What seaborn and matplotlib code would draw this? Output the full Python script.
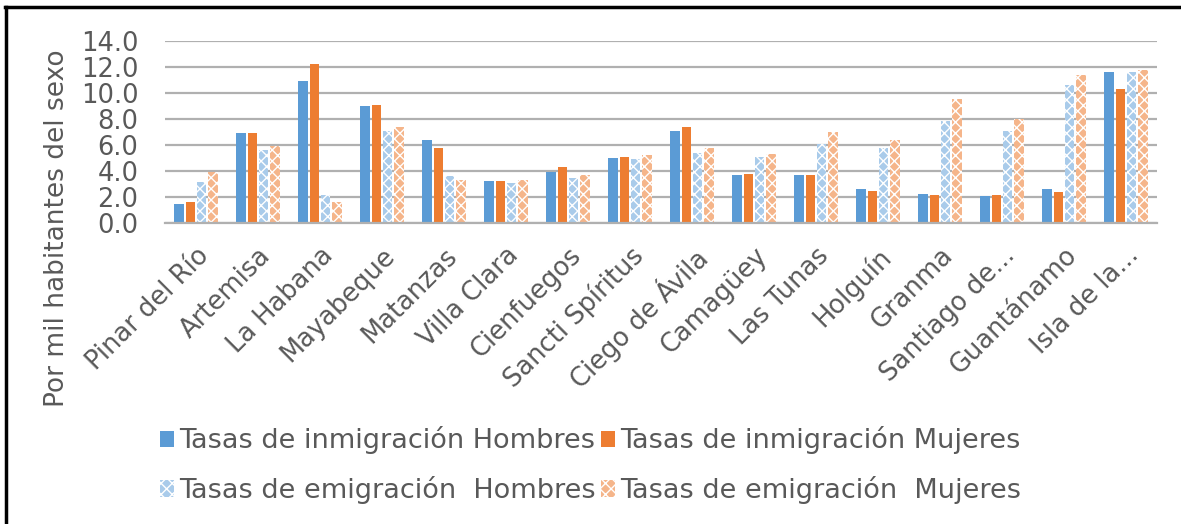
import pandas as pd
import numpy as np
import matplotlib.pyplot as plt
import seaborn as sns
from matplotlib.lines import Line2D
from matplotlib.patches import Patch

provincias = ['Pinar del Río', 'Artemisa', 'La Habana', 'Mayabeque', 'Matanzas',
              'Villa Clara', 'Cienfuegos', 'Sancti Spíritus', 'Ciego de Ávila',
              'Camagüey', 'Las Tunas', 'Holguín', 'Granma', 'Santiago de...',
              'Guantánamo', 'Isla de la...']

inmig_hombres = [1.5, 6.9, 10.9, 9.0, 6.4, 3.25, 3.9, 5.0, 7.1, 3.7, 3.7, 2.6, 2.25, 2.05, 2.6, 11.6]
inmig_mujeres = [1.6, 6.9, 12.2, 9.1, 5.8, 3.25, 4.3, 5.1, 7.4, 3.8, 3.7, 2.5, 2.15, 2.15, 2.35, 10.3]
emig_hombres = [3.15, 5.6, 2.15, 7.1, 3.6, 3.05, 3.45, 4.9, 5.4, 5.1, 6.05, 5.8, 7.85, 7.1, 10.6, 11.6]
emig_mujeres = [3.95, 5.95, 1.65, 7.4, 3.3, 3.3, 3.7, 5.2, 5.8, 5.3, 7.0, 6.4, 9.5, 8.0, 11.4, 11.8]

series = ['Tasas de inmigración Hombres', 'Tasas de inmigración Mujeres',
          'Tasas de emigración  Hombres', 'Tasas de emigración  Mujeres']

df = pd.DataFrame({
    'Provincia': provincias * 4,
    'Serie': [s for s in series for _ in provincias],
    'Tasa': inmig_hombres + inmig_mujeres + emig_hombres + emig_mujeres,
})

colores = ['#5b9bd5', '#ed7d31', '#a9cbea', '#f5b58a']
gris = '#595959'

plt.rcParams['font.family'] = ['DejaVu Sans']
plt.rcParams['hatch.linewidth'] = 1.0

fig = plt.figure(figsize=(11.81, 5.24), dpi=100)
ax = fig.add_axes([0.1397, 0.5744, 0.8400, 0.3474])

sns.barplot(data=df, x='Provincia', y='Tasa', hue='Serie', palette=colores,
            saturation=1, width=0.72, gap=0.14, ax=ax, legend=False)

# patrón para las barras de emigración
for i, cont in enumerate(ax.containers):
    for bar in cont:
        if i >= 2:
            bar.set_hatch('xxx')
            bar.set_edgecolor('white')
            bar.set_linewidth(0)
        else:
            bar.set_edgecolor('none')

ticks = np.arange(0, 14.1, 2)
ax.set_ylim(0, 14)
ax.set_yticks(ticks)
ax.set_yticklabels([f'{v:.1f}' for v in ticks], fontsize=18.5, color=gris)
ax.set_xlim(-0.5, len(provincias) - 0.5)
ax.set_xticks(range(len(provincias)))
ax.set_xticklabels(provincias, rotation=45, ha='right', va='top', rotation_mode='anchor',
                   fontsize=18.5, color=gris)
ax.tick_params(axis='y', length=0, pad=19)
ax.tick_params(axis='x', length=0, pad=14)
ax.set_xlabel('')
ax.set_ylabel('Por mil habitantes del sexo', fontsize=19, color=gris)
ax.yaxis.set_label_coords(-0.096, -0.03)
ax.grid(axis='y', color='#b0b0b0', linewidth=1.6)
ax.set_axisbelow(True)
for s in ['top', 'right', 'left']:
    ax.spines[s].set_visible(False)
ax.spines['bottom'].set_color('#b0b0b0')
ax.spines['bottom'].set_linewidth(1.6)

handles = []
for i in [0, 2, 1, 3]:
    if i >= 2:
        handles.append(Patch(facecolor=colores[i], edgecolor='white', hatch='xxx',
                             linewidth=0, label=series[i]))
    else:
        handles.append(Patch(facecolor=colores[i], label=series[i]))
fig.legend(handles=handles, ncol=2, loc='center', bbox_to_anchor=(0.5, 0.112),
           frameon=False, fontsize=19.5, labelcolor=gris, handlelength=0.5,
           handleheight=0.55, handletextpad=0.2, columnspacing=0.2, labelspacing=0.8)

# marco recortado (solo borde izquierdo y superior)
fig.add_artist(Line2D([0.0055, 0.0055], [0, 0.987], transform=fig.transFigure,
                      color='black', linewidth=2.5))
fig.add_artist(Line2D([0.0045, 1.0], [0.987, 0.987], transform=fig.transFigure,
                      color='black', linewidth=2.5))

fig.savefig('out.png', dpi=100)
